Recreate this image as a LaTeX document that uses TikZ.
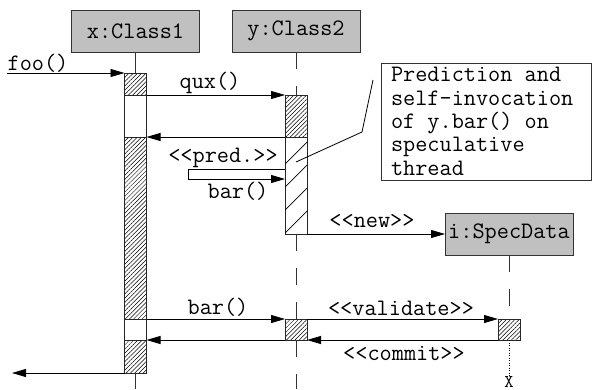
\documentclass[tikz,border=0pt]{standalone}
\usepackage{fontspec}
\usetikzlibrary{arrows.meta,patterns.meta,calc}
\definecolor{objgray}{HTML}{C0C0C0}

\begin{document}
\begin{tikzpicture}[x=1pt,y=-1pt,
  every node/.style={font=\ttfamily\fontsize{23.6}{23.3}\selectfont, inner sep=0pt, outer sep=0pt},
  obj/.style={draw=black!80, fill=objgray, minimum width=128pt, minimum height=42pt, line width=0.9pt},
  act/.style={draw=black!85, line width=0.9pt, minimum width=22pt, anchor=north west},
  busy/.style={act, pattern={Lines[angle=45,distance=3pt,line width=0.5pt]}},
  idle/.style={act, fill=white},
  msg/.style={line width=0.8pt, -{Triangle[length=14pt,width=8pt]}},
  life/.style={line width=0.8pt, draw=black!80, dash pattern=on 17pt off 17pt},
  plainlife/.style={line width=0.8pt, draw=black!80}]

% canvas
\path[fill=white, use as bounding box] (0,0) rectangle (592,389);

% objects
\node[obj] (c1) at (135.5,31) {x:Class1};
\node[obj] (c2) at (296,31) {y:Class2};
\node[obj] (spec) at (509,234) {i:SpecData};

% activation bars of x
\node[busy, minimum height=22pt]  (xa1) at (124.5,73) {};
\node[idle, minimum height=42pt]  (xa2) at (124.5,95) {};
\node[busy, minimum height=182pt] (xa3) at (124.5,137) {};
\node[idle, minimum height=21pt]  (xa4) at (124.5,319) {};
\node[busy, minimum height=33pt]  (xa5) at (124.5,340) {};

% activation bars of y
\node[busy, minimum height=42pt] (ya1) at (285,95) {};
\node[idle, minimum height=97pt] (ya2) at (285,137) {};
\node[busy, minimum height=21pt] (ya3) at (285,319) {};

% activation bar of i
\node[busy, minimum height=21pt] (ia1) at (498,319) {};

% sparse hatching of the speculative thread
\begin{scope}
  \clip (ya2.north west) rectangle (ya2.south east);
  \foreach \yy in {164,187,210,233}
    \draw[line width=0.7pt] (285,\yy) -- (307,\yy-22);
\end{scope}

% lifelines
\coordinate (xend) at (135.5,389);
\coordinate (yend) at (296,389);
\draw[plainlife] (c1.south) -- (xa1.north);
\draw[plainlife] (xa5.south) -- (xend);
\draw[life] (c2.south) -- (ya1.north);
\draw[life] (ya2.south) -- (ya3.north);
\draw[life] (ya3.south) -- (yend);
\draw[life] (spec.south) -- (ia1.north);
\node[font=\ttfamily\fontsize{18}{18}\selectfont, anchor=base] (kill) at (509,387) {X};
\draw[line width=0.8pt, dash pattern=on 1pt off 1.5pt] (ia1.south) -- (kill.north);

% messages
\coordinate (entry) at (7,73);
\coordinate (exit) at (12,373);
\draw[msg] (entry) -- (xa1.north west);
\node (foo) at (38,63) {foo()};

\draw[msg] (xa1.south east) -- (ya1.north west);
\node (qux) at (210,83) {qux()};

\draw[msg] (ya1.south west) -- (xa2.south east);

% prediction of y.bar()
\coordinate (pl) at (188,169);
\coordinate (pr) at (188,179);
\draw[msg] (ya2.west |- pl) -- (pl) -- (pr) -- (ya2.west |- pr);
\node (pred) at (223,158) {<{}<pred.>{}>};
\node (bar1) at (238,191) {bar()};

\draw[msg] (ya2.south east) -- (spec.west);
\node (new) at (372,221) {<{}<new>{}>};

\draw[msg] (xa3.south east) -- (ya3.north west);
\node (bar2) at (218,307) {bar()};

\draw[msg] (ya3.north east) -- (ia1.north west);
\node (validate) at (401,308) {<{}<validate>{}>};

\draw[msg] (ia1.south west) -- (ya3.south east);
\node (commit) at (404,353) {<{}<commit>{}>};

\draw[msg] (ya3.south west) -- (xa4.south east);

\draw[msg] (xa5.south west) -- (exit);

% note with its leader
\node[draw=black!80, line width=0.9pt, minimum width=210pt, minimum height=117pt, anchor=north west] (note) at (381,63) {};
\node[anchor=base west, align=left] (notetext) at (391,175)
  {Prediction and\\self-invocation\\of y.bar() on\\speculative\\thread};
\coordinate (lead) at (373,80);
\coordinate (bend) at (362,132);
\coordinate (target) at (296,162);
\draw[line width=0.8pt] (lead) -- (bend) -- (target);
\end{tikzpicture}
\end{document}
